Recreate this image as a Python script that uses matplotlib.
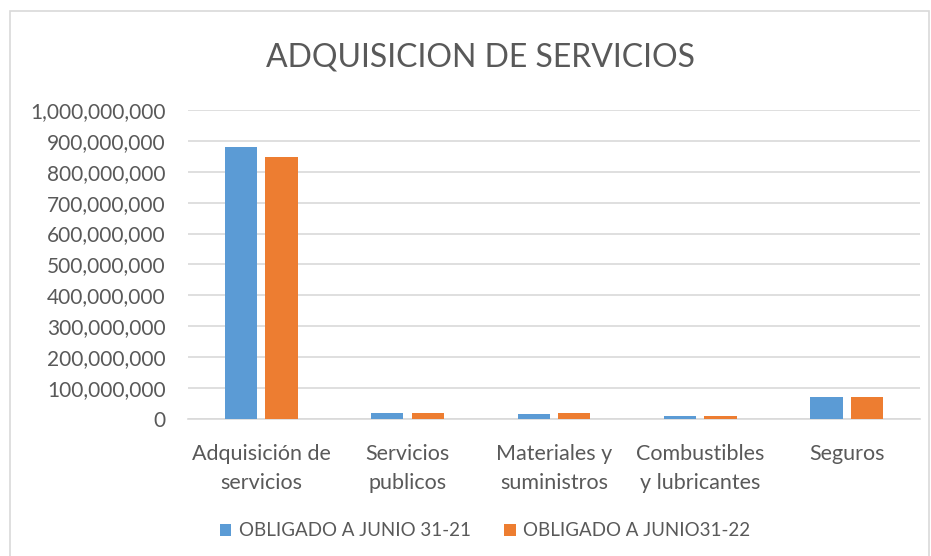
import matplotlib.pyplot as plt
import numpy as np
from matplotlib.ticker import FuncFormatter
from matplotlib.patches import Rectangle

# datos
categorias = ["Adquisición de\nservicios", "Servicios\npublicos", "Materiales y\nsuministros",
              "Combustibles\ny lubricantes", "Seguros"]
obligado_21 = [880000000, 21000000, 15000000, 8500000, 71500000]
obligado_22 = [848000000, 21000000, 21000000, 8500000, 71500000]
series = ["OBLIGADO A JUNIO 31-21", "OBLIGADO A JUNIO31-22"]

plt.rcParams['font.family'] = ['Lato', 'DejaVu Sans']
gris = '#595959'

fig = plt.figure(figsize=(9.31, 5.56), dpi=100)
ax = fig.add_axes([0.202, 0.2464, 0.786, 0.5558])

x = np.arange(len(categorias))
w = 0.22
ax.bar(x - w / 2 - 0.028, obligado_21, w, color='#5B9BD5', label=series[0], zorder=3)
ax.bar(x + w / 2 + 0.028, obligado_22, w, color='#ED7D31', label=series[1], zorder=3)

ax.set_xlim(-0.5, len(categorias) - 0.5)
ax.set_ylim(0, 1000000000)
ax.set_yticks(np.arange(0, 1000000001, 100000000))
ax.yaxis.set_major_formatter(FuncFormatter(lambda v, p: f"{int(v):,}"))
ax.set_xticks(x)
ax.set_xticklabels(categorias, fontsize=15.5, color=gris, linespacing=1.55)
ax.tick_params(axis='y', labelsize=15, labelcolor=gris, length=0, pad=16)
ax.tick_params(axis='x', length=0, pad=18)
ax.grid(axis='y', color='#D9D9D9', linewidth=1.2, zorder=0)
for s in ['top', 'right', 'left']:
    ax.spines[s].set_visible(False)
ax.spines['bottom'].set_color('#D9D9D9')
ax.spines['bottom'].set_linewidth(1.2)

fig.text(0.516, 0.897, "ADQUISICION DE SERVICIOS", ha='center', va='center', fontsize=23, color=gris)

leg = fig.legend(loc='center', bbox_to_anchor=(0.521, 0.045), ncol=2, frameon=False,
                 fontsize=13.5, handlelength=0.6, handleheight=0.6, columnspacing=1.8, handletextpad=0.4)
for t in leg.get_texts():
    t.set_color(gris)

# borde del grafico
fig.patches.append(Rectangle((0.011, -0.01), 0.987, 0.99, transform=fig.transFigure,
                             fill=False, edgecolor='#D9D9D9', linewidth=1.2))

plt.savefig('out.png', dpi=100)
